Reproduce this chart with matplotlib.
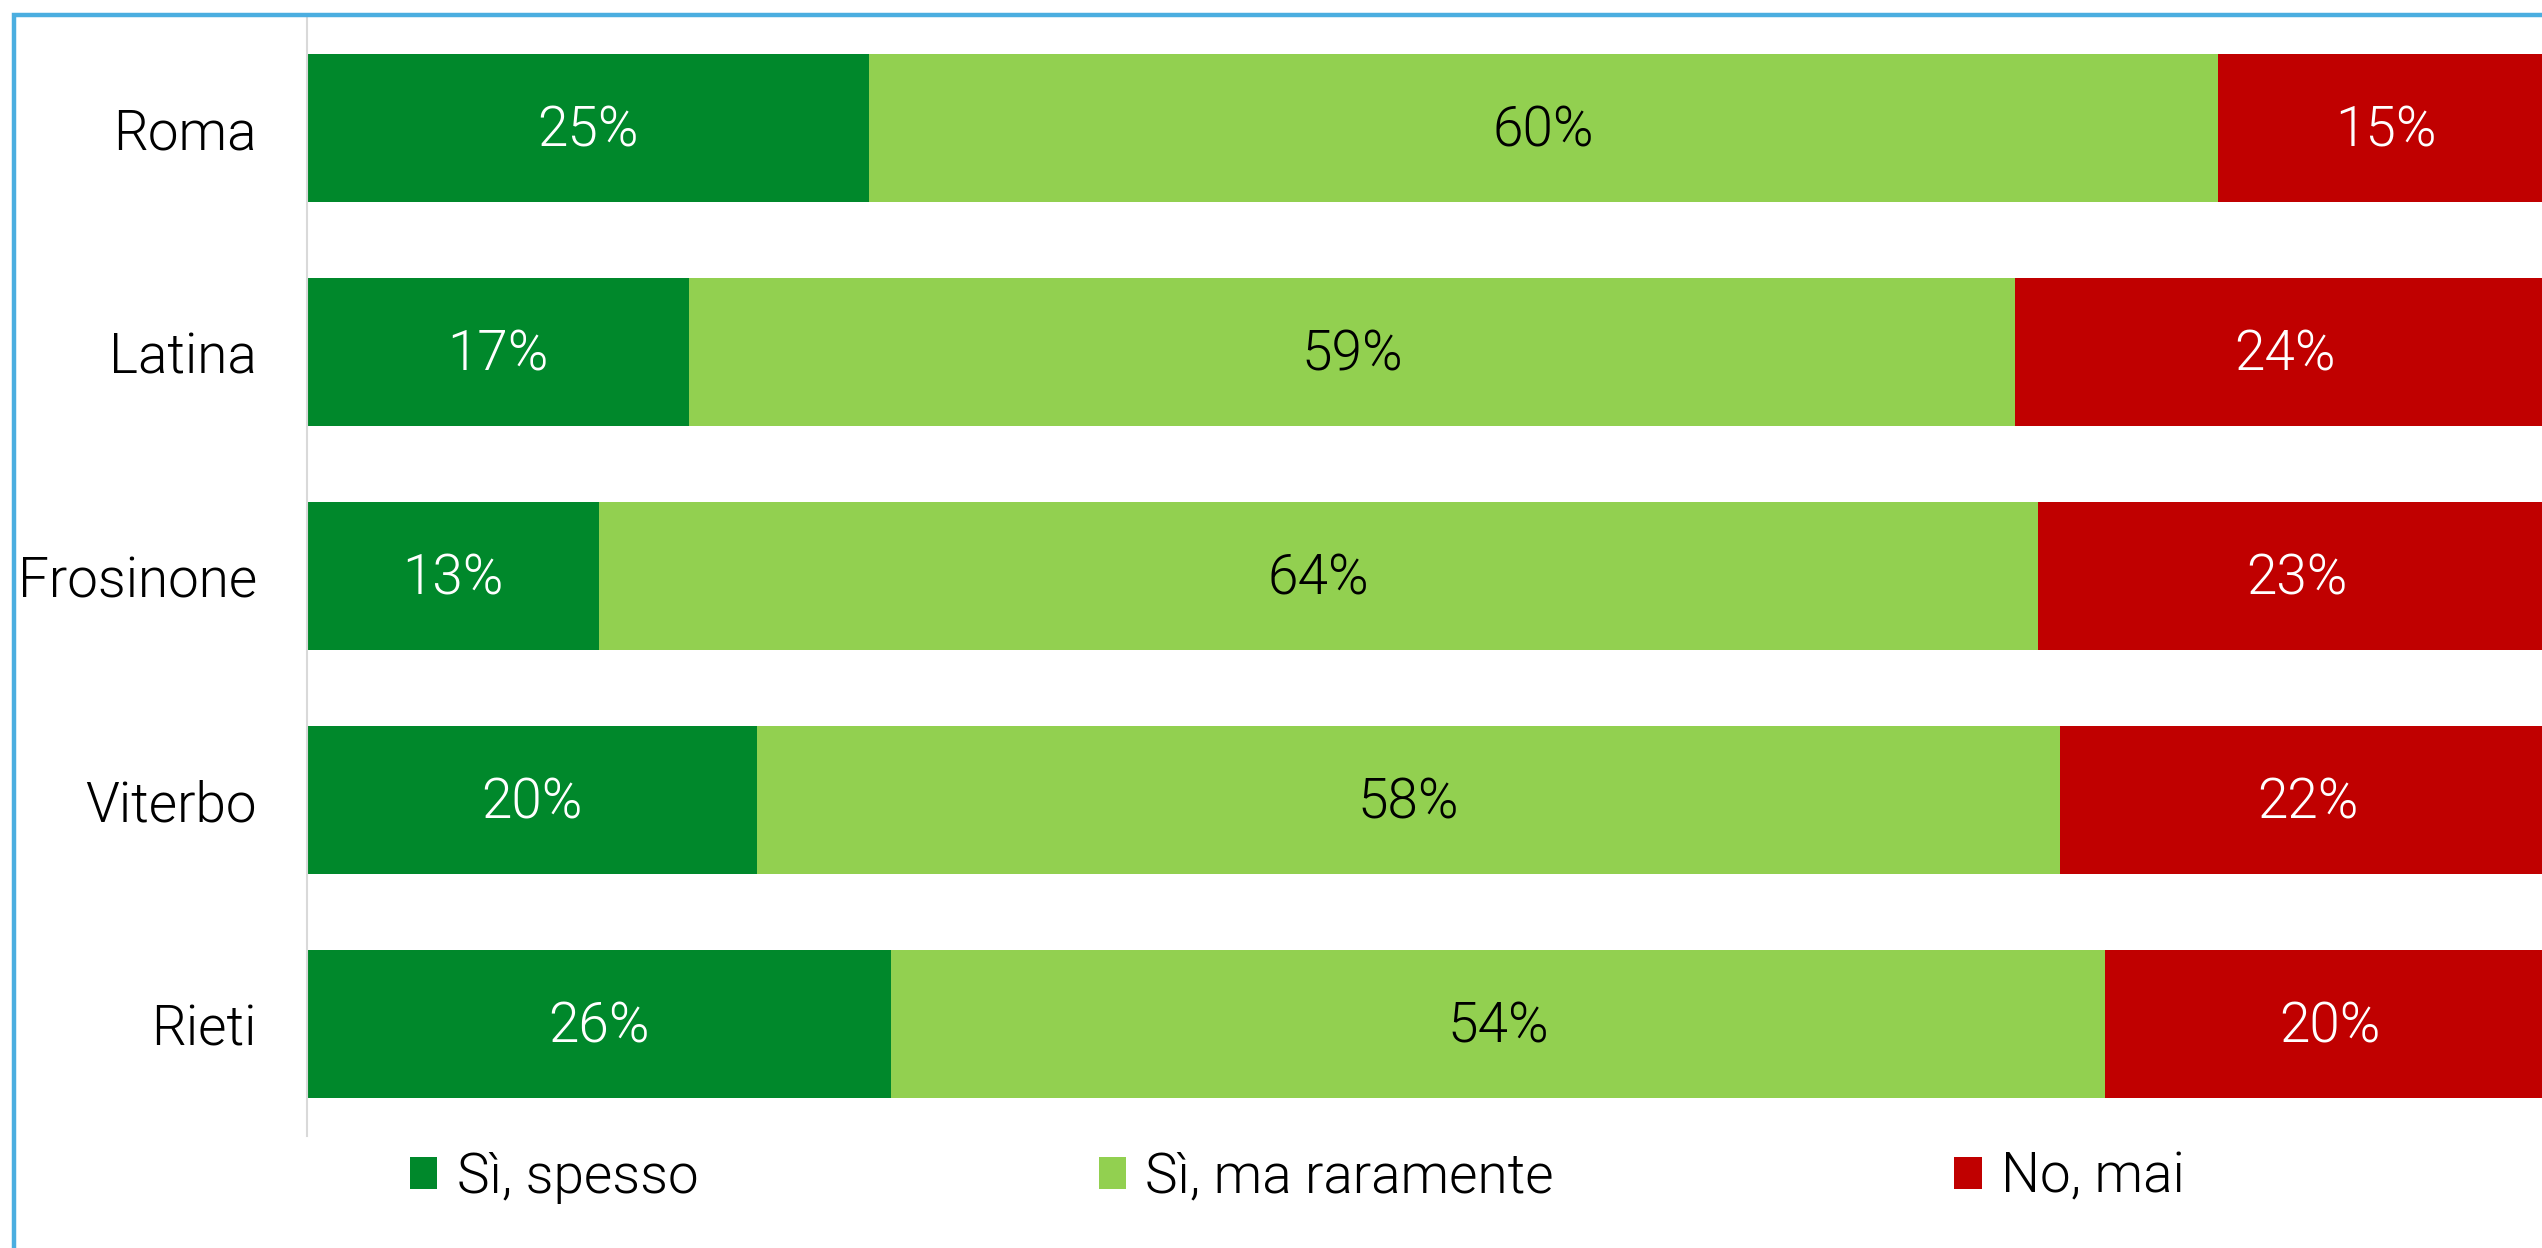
import matplotlib
matplotlib.use("Agg")
import matplotlib.pyplot as plt
from matplotlib.patches import Rectangle, Patch
import numpy as np

categories = ["Roma", "Latina", "Frosinone", "Viterbo", "Rieti"]
series_names = ["Sì, spesso", "Sì, ma raramente", "No, mai"]
spesso = [25, 17, 13, 20, 26]
raramente = [60, 59, 64, 58, 54]
mai = [15, 24, 23, 22, 20]
colors = ["#00882B", "#92D050", "#C00000"]
label_colors = ["white", "black", "white"]

plt.rcParams['font.family'] = ['Roboto', 'DejaVu Sans']
FW = 300
FS = 39.5
LFS = 39.5

W, H = 2542, 1248
fig = plt.figure(figsize=(W / 100, H / 100), dpi=100)
ax = fig.add_axes([307 / W, (H - 1136) / H, 2248 / W, 1120 / H])

y = np.arange(len(categories))
left = np.zeros(len(categories))
for vals, col, lc, name in zip([spesso, raramente, mai], colors, label_colors, series_names):
    v = np.array(vals) / 100.0
    bars = ax.barh(y, v, left=left, height=0.665, color=col, edgecolor='none', label=name)
    for b, val in zip(bars, vals):
        ax.text(b.get_x() + b.get_width() / 2, b.get_y() + b.get_height() / 2 + 0.015,
                f"{val}%", ha='center', va='center', color=lc,
                fontsize=FS, fontweight=FW)
    left = left + v

ax.set_xlim(0, 1)
ax.set_ylim(len(categories) - 0.5, -0.5)
ax.set_yticks(y)
ax.set_yticklabels(categories, fontsize=FS, fontweight=FW)
ax.set_xticks([])
ax.tick_params(axis='y', length=0, pad=36)
for s in ['top', 'right', 'bottom']:
    ax.spines[s].set_visible(False)
ax.spines['left'].set_color('#D9D9D9')
ax.spines['left'].set_linewidth(1.5)

handles = [Patch(facecolor=c, edgecolor='none') for c in colors]
fig.legend(handles, series_names, loc='center left', bbox_to_anchor=(410 / W, 1 - 1177 / H),
           ncol=3, frameon=False, handlelength=0.5, handleheight=0.5,
           handletextpad=0.35, columnspacing=7.3, borderaxespad=0, borderpad=0,
           prop={'size': LFS, 'weight': FW})

fig.patches.append(Rectangle((13.5 / W, -0.1), 1.1, 1.1 - 15 / H, transform=fig.transFigure,
                             fill=False, edgecolor='#4BAEE0', linewidth=3.2, zorder=10))

fig.savefig("out.png", dpi=100)
